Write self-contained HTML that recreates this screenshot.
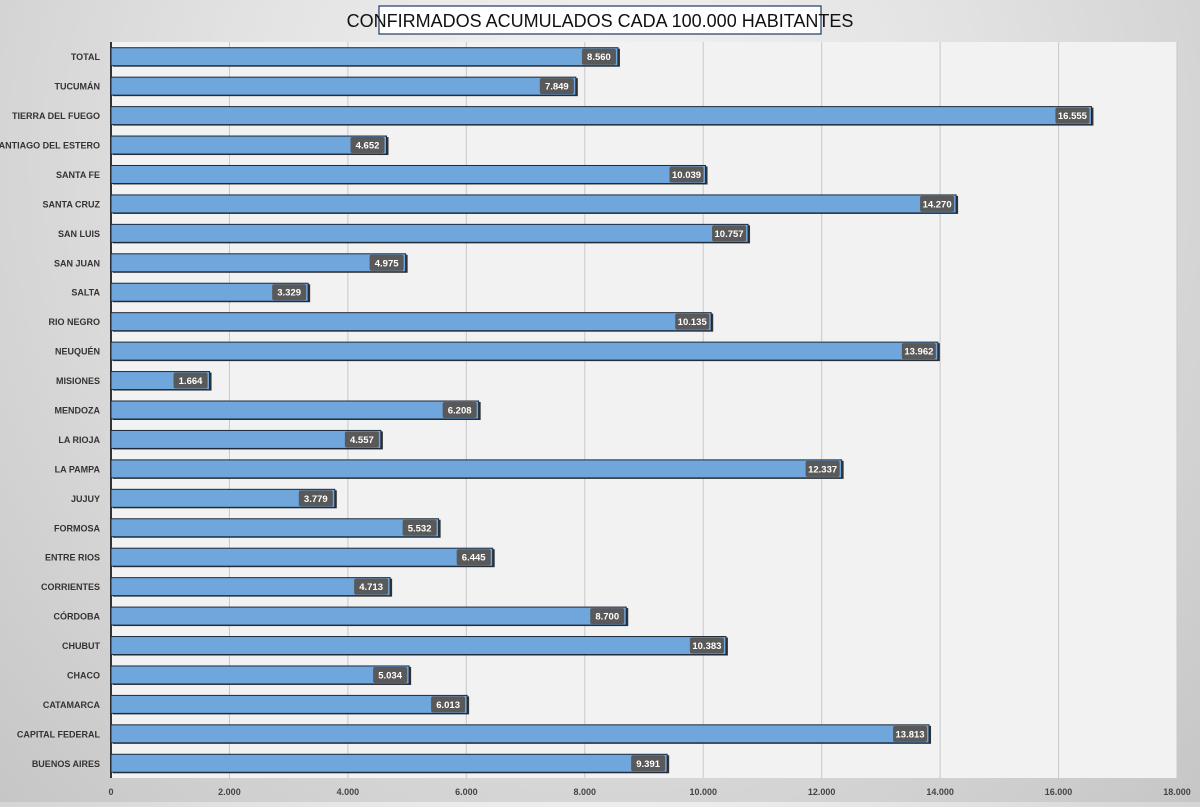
<!DOCTYPE html>
<html><head><meta charset="utf-8"><style>
html,body{margin:0;padding:0;}
body{width:1200px;height:802px;overflow:hidden;background:radial-gradient(ellipse at 50% 20%,#f4f4f4 0%,#e2e2e2 45%,#c6c6c6 100%);font-family:"Liberation Sans",sans-serif;}
</style></head><body>
<svg id="chart" width="1200" height="802" xmlns="http://www.w3.org/2000/svg">
<rect x="379" y="6" width="442" height="28" fill="#fff" stroke="#1f3864" stroke-width="1.2"/>
<text x="600" y="27" text-anchor="middle" font-size="18" fill="#111">CONFIRMADOS ACUMULADOS CADA 100.000 HABITANTES</text>
<rect x="111" y="42" width="1066" height="736" fill="#f2f2f2"/>
<g id="grid"></g><g id="bars"></g><g id="labels"></g>
</svg>
<script>
const categories=["TOTAL","TUCUMÁN","TIERRA  DEL FUEGO","SANTIAGO  DEL ESTERO","SANTA FE","SANTA CRUZ","SAN LUIS","SAN JUAN","SALTA","RIO NEGRO","NEUQUÉN","MISIONES","MENDOZA","LA RIOJA","LA PAMPA","JUJUY","FORMOSA","ENTRE RIOS","CORRIENTES","CÓRDOBA","CHUBUT","CHACO","CATAMARCA","CAPITAL FEDERAL","BUENOS  AIRES"];
const values=[8560,7849,16555,4652,10039,14270,10757,4975,3329,10135,13962,1664,6208,4557,12337,3779,5532,6445,4713,8700,10383,5034,6013,13813,9391];
const ticks=[0,2000,4000,6000,8000,10000,12000,14000,16000,18000];
const NS="http://www.w3.org/2000/svg";
const x0=111,x1=1177,xmax=18000,yTop=42,yBot=778;
const xs=v=>x0+(v/xmax)*(x1-x0);
const step=(yBot-yTop)/categories.length;
const yc=i=>yTop+step*(i+0.5);
const fmt=v=>v.toLocaleString('de-DE');
function mk(t,a,p){const e=document.createElementNS(NS,t);for(const k in a)e.setAttribute(k,a[k]);p.appendChild(e);return e;}
const grid=document.getElementById('grid'),bars=document.getElementById('bars'),labels=document.getElementById('labels');
ticks.forEach(t=>{
 const l=mk('line',{x1:xs(t),x2:xs(t),y1:yTop,y2:yBot,stroke:t===0?'#333':'#c8c8c8','stroke-width':t===0?2:1},grid);
 
 
 const tx=mk('text',{x:xs(t),y:yBot+17,'text-anchor':'middle','font-size':9,'font-weight':'bold',fill:'#444'},labels);
 tx.textContent=fmt(t);
 
 
});
categories.forEach((c,i)=>{
 const y=yc(i),h=18,w=xs(values[i])-x0;
 const sh=mk('rect',{x:x0+2,y:y-h/2+1,width:w,height:h,fill:'#333'},bars);
 
 
 const r=mk('rect',{x:x0,y:y-h/2,width:w,height:h,fill:'#6fa6dc',stroke:'#1d2a3a','stroke-width':1},bars);
 
 
 const lb=mk('text',{x:x0-11,y:y+3.5,'text-anchor':'end','font-size':9,'font-weight':'bold',fill:'#333'},labels);
 lb.textContent=c;
 
 
 const bw=34,bx=xs(values[i])-bw-2;
 const b=mk('rect',{x:bx,y:y-8,width:bw,height:16,rx:2,fill:'#595959'},labels);
 
 
 const vt=mk('text',{x:bx+bw/2,y:y+3.5,'text-anchor':'middle','font-size':9.5,'font-weight':'bold',fill:'#fff'},labels);
 vt.textContent=fmt(values[i]);
 
 
});
</script>
</body></html>
